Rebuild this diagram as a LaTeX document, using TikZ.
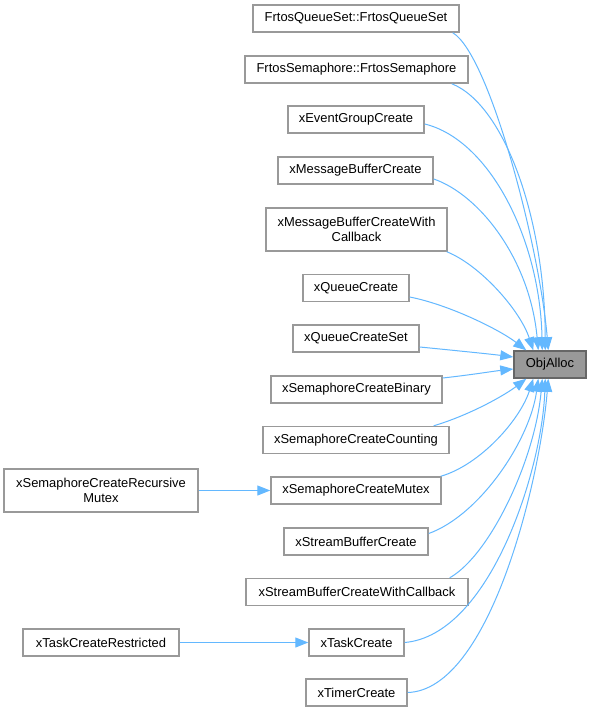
\documentclass[tikz,border=0pt]{standalone}
\usepackage{fontspec}
\setmainfont{Liberation Sans}
\usetikzlibrary{arrows.meta,calc}
\definecolor{edgeblue}{HTML}{63B8FF}
\definecolor{boxgray}{HTML}{999999}
\definecolor{boxdark}{HTML}{666666}
\begin{document}
\begin{tikzpicture}[x=0.75pt,y=-0.75pt,
  box/.style={draw=boxgray, line width=1.1pt, fill=white, inner sep=0pt, align=center,
    font=\fontsize{9.7}{11.3}\selectfont},
  sz/.style 2 args={minimum width=#1*0.75pt, minimum height=#2*0.75pt},
  target/.style={box, draw=boxdark, fill=boxgray},
  edge/.style={draw=edgeblue, line width=0.75pt, -{Triangle[length=9.75pt,width=7.5pt]}}]
\useasboundingbox (0,0) rectangle (591,712);
\fill[white] (0,0) rectangle (591,712);

\node[box, sz={206}{27}] (fqs)   at (356,18.5)  {FrtosQueueSet::FrtosQueueSet};
\node[box, sz={223}{27}] (fs)    at (356.5,69.5){FrtosSemaphore::FrtosSemaphore};
\node[box, sz={136}{27}] (egc)   at (356,119.5) {xEventGroupCreate};
\node[box, sz={155}{27}] (mbc)   at (355.5,170.5){xMessageBufferCreate};
\node[box, sz={181}{43}] (mbcwc) at (356.5,229.5){xMessageBufferCreateWith\\Callback};
\node[box, sz={106}{27}] (qc)    at (356,288)   {xQueueCreate};
\node[box, sz={126}{27}] (qcs)   at (356,338.5) {xQueueCreateSet};
\node[box, sz={171}{27}] (scb)   at (356.5,389.5){xSemaphoreCreateBinary};
\node[target, sz={72}{27}] (obj) at (550,364.5) {ObjAlloc};
\node[box, sz={186}{27}] (scc)   at (356,440)   {xSemaphoreCreateCounting};
\node[box, sz={170}{27}] (scm)   at (356,490.5) {xSemaphoreCreateMutex};
\node[box, sz={194}{43}] (scrm)  at (101,490.5) {xSemaphoreCreateRecursive\\Mutex};
\node[box, sz={144}{27}] (sbc)   at (356,541.5) {xStreamBufferCreate};
\node[box, sz={222}{27}] (sbcwc) at (357,592)   {xStreamBufferCreateWithCallback};
\node[box, sz={95}{27}]  (tc)    at (356.5,642.5){xTaskCreate};
\node[box, sz={156}{27}] (tcr)   at (101,642.5) {xTaskCreateRestricted};
\node[box, sz={101}{27}] (tmc)   at (356.5,692.5){xTimerCreate};

% edges into ObjAlloc from above
\draw[edge] ($(fqs.south east)+(-7,0)$) .. controls (490,55) and (540,250) .. ($(obj.north west)+(35,0)$);
\draw[edge] ($(fs.south east)+(-17,0)$) .. controls (505,105) and (545,220) .. ($(obj.north west)+(32,0)$);
\draw[edge] ($(egc.east)+(0,4.5)$) .. controls (490,140) and (540,240) .. ($(obj.north west)+(29,0)$);
\draw[edge] ($(mbc.east)+(0,8.5)$) .. controls (480,195) and (530,260) .. ($(obj.north west)+(25,0)$);
\draw[edge] ($(mbcwc.south east)+(-1,0)$) .. controls (480,265) and (520,310) .. ($(obj.north west)+(20,0)$);
\draw[edge] ($(qc.east)+(0,9)$) .. controls (450,305) and (500,330) .. ($(obj.north west)+(13,0)$);
% edges into left side
\draw[edge] ($(qcs.east)+(0,8.5)$) .. controls (450,350) and (490,354) .. ($(obj.west)+(0,-7.5)$);
\draw[edge] ($(scb.east)+(0,-11.5)$) .. controls (470,375) and (495,371) .. ($(obj.west)+(0,4.5)$);
% edges into ObjAlloc from below
\draw[edge] ($(scc.north east)+(-16,0)$) .. controls (470,415) and (505,395) .. ($(obj.south west)+(13,0)$);
\draw[edge] ($(scm.north east)+(-1,0)$) .. controls (480,465) and (520,420) .. ($(obj.south west)+(20,0)$);
\draw[edge] ($(sbc.east)+(0,-8)$) .. controls (480,515) and (530,440) .. ($(obj.south west)+(25,0)$);
\draw[edge] ($(sbcwc.north east)+(-19,0)$) .. controls (490,555) and (535,460) .. ($(obj.south west)+(29,0)$);
\draw[edge] (tc.east) .. controls (490,635) and (542,470) .. ($(obj.south west)+(32,0)$);
\draw[edge] (tmc.east) .. controls (490,690) and (540,480) .. ($(obj.south west)+(35,0)$);

% horizontal edges
\draw[edge] (scrm.east) -- (scm.west);
\draw[edge] (tcr.east) -- (tc.west);
\end{tikzpicture}
\end{document}
